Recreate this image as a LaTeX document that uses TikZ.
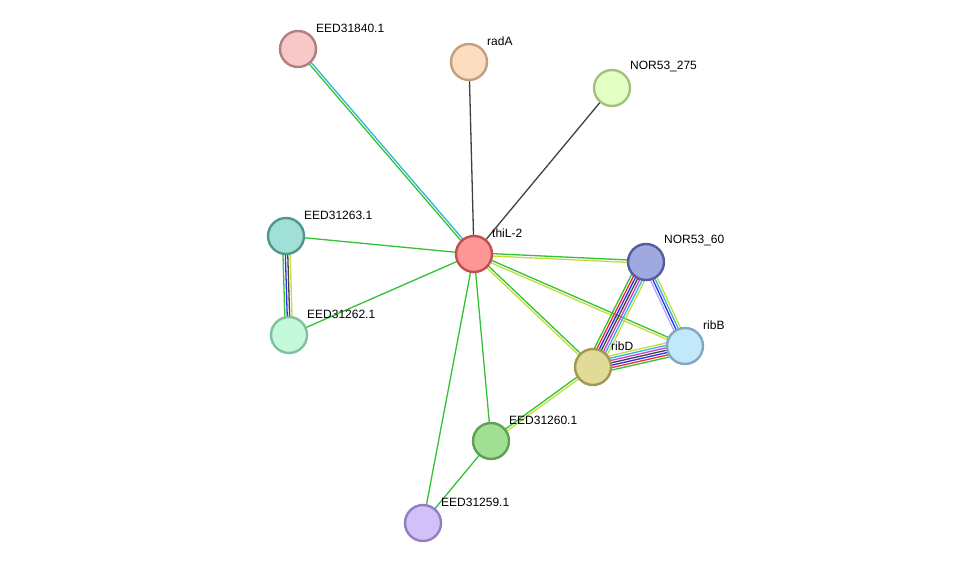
\documentclass[tikz,border=0pt]{standalone}
\usepackage{fontspec}
\setmainfont{Liberation Sans}
\usetikzlibrary{calc,backgrounds}
\definecolor{cgreen}{HTML}{33C233}
\definecolor{cyel}{HTML}{C4DC3C}
\definecolor{ccyan}{HTML}{30B4DC}
\definecolor{cblue}{HTML}{2C2CF0}
\definecolor{cred}{HTML}{EE2E2E}
\definecolor{cmag}{HTML}{D03CD0}
\definecolor{cblack}{HTML}{404040}
\definecolor{clav}{HTML}{ACACF4}
\newcommand{\mline}[4]{\draw[#4, edge] ($(#1)!#3!90:(#2)$) -- ($(#2)!#3!-90:(#1)$);}
\tikzset{
  prot/.style={circle, minimum size=36pt, inner sep=0pt, line width=2.4pt},
  lab/.style={anchor=west, font=\fontsize{12}{14}\selectfont, inner sep=0pt},
  edge/.style={line width=1.3pt},
}
\begin{document}
\begin{tikzpicture}[x=1pt,y=-1pt]
\useasboundingbox (0,0) rectangle (975,569);
\node[prot, fill={rgb,255:red,255;green,150;blue,150}, draw={rgb,255:red,192;green,80;blue,80}] (thiL) at (474,254) {};
\node[prot, fill={rgb,255:red,248;green,200;blue,200}, draw={rgb,255:red,176;green,128;blue,128}] (e840) at (298,49) {};
\node[prot, fill={rgb,255:red,253;green,220;blue,192}, draw={rgb,255:red,192;green,160;blue,128}] (radA) at (469,62) {};
\node[prot, fill={rgb,255:red,226;green,255;blue,196}, draw={rgb,255:red,164;green,192;blue,128}] (n275) at (612,88) {};
\node[prot, fill={rgb,255:red,160;green,224;blue,216}, draw={rgb,255:red,80;green,152;blue,140}] (e263) at (286,236) {};
\node[prot, fill={rgb,255:red,196;green,250;blue,218}, draw={rgb,255:red,128;green,192;blue,160}] (e262) at (289,335) {};
\node[prot, fill={rgb,255:red,160;green,168;blue,224}, draw={rgb,255:red,84;green,92;blue,160}] (n60) at (646,262) {};
\node[prot, fill={rgb,255:red,194;green,232;blue,252}, draw={rgb,255:red,128;green,168;blue,192}] (ribB) at (685,346) {};
\node[prot, fill={rgb,255:red,224;green,220;blue,152}, draw={rgb,255:red,160;green,152;blue,80}] (ribD) at (593,367) {};
\node[prot, fill={rgb,255:red,160;green,224;blue,148}, draw={rgb,255:red,96;green,160;blue,84}] (e260) at (491,441) {};
\node[prot, fill={rgb,255:red,210;green,192;blue,248}, draw={rgb,255:red,144;green,128;blue,192}] (e259) at (423,523) {};

\node[lab] (lthiL) at (492,233) {thiL-2};
\node[lab] (l840) at (316,28) {EED31840.1};
\node[lab] (lradA) at (487,41) {radA};
\node[lab] (l275) at (630,67) {NOR53\_275};
\node[lab] (l263) at (304,215) {EED31263.1};
\node[lab] (l262) at (307,314) {EED31262.1};
\node[lab] (l60) at (664,241) {NOR53\_60};
\node[lab] (lribB) at (703,325) {ribB};
\node[lab] (lribD) at (611,346) {ribD};
\node[lab] (l260) at (509,420) {EED31260.1};
\node[lab] (l259) at (441,502) {EED31259.1};

\begin{pgfonlayer}{background}
\mline{thiL}{e840}{1.2pt}{cgreen}
\mline{thiL}{e840}{-1.2pt}{ccyan}
\mline{thiL}{radA}{0pt}{cblack}
\mline{thiL}{n275}{0pt}{cblack}
\mline{thiL}{e263}{0pt}{cgreen}
\mline{thiL}{e262}{0pt}{cgreen}
\mline{thiL}{n60}{1.2pt}{cgreen}
\mline{thiL}{n60}{-1.2pt}{cyel}
\mline{thiL}{ribB}{1.2pt}{cgreen}
\mline{thiL}{ribB}{-1.2pt}{cyel}
\mline{thiL}{ribD}{1.2pt}{cgreen}
\mline{thiL}{ribD}{-1.2pt}{cyel}
\mline{thiL}{e260}{0pt}{cgreen}
\mline{thiL}{e259}{0pt}{cgreen}
\mline{e263}{e262}{-3.6pt}{cgreen}
\mline{e263}{e262}{-1.2pt}{cblue}
\mline{e263}{e262}{1.2pt}{cblack}
\mline{e263}{e262}{3.6pt}{cyel}
\mline{e260}{e259}{0pt}{cgreen}
\mline{e260}{ribD}{1.2pt}{cgreen}
\mline{e260}{ribD}{-1.2pt}{cyel}
\mline{ribD}{n60}{7.2pt}{cgreen}
\mline{ribD}{n60}{4.8pt}{cred}
\mline{ribD}{n60}{2.4pt}{cblue}
\mline{ribD}{n60}{0pt}{cblack}
\mline{ribD}{n60}{-2.4pt}{cmag}
\mline{ribD}{n60}{-4.8pt}{ccyan}
\mline{ribD}{n60}{-7.2pt}{cyel}
\mline{ribD}{ribB}{-7.2pt}{cgreen}
\mline{ribD}{ribB}{-4.8pt}{cred}
\mline{ribD}{ribB}{-2.4pt}{cblue}
\mline{ribD}{ribB}{0pt}{cblack}
\mline{ribD}{ribB}{2.4pt}{cmag}
\mline{ribD}{ribB}{4.8pt}{ccyan}
\mline{ribD}{ribB}{7.2pt}{cyel}
\mline{n60}{ribB}{-3.6pt}{clav}
\mline{n60}{ribB}{-1.2pt}{cblue}
\mline{n60}{ribB}{1.2pt}{ccyan}
\mline{n60}{ribB}{3.6pt}{cyel}
\end{pgfonlayer}
\end{tikzpicture}
\end{document}
